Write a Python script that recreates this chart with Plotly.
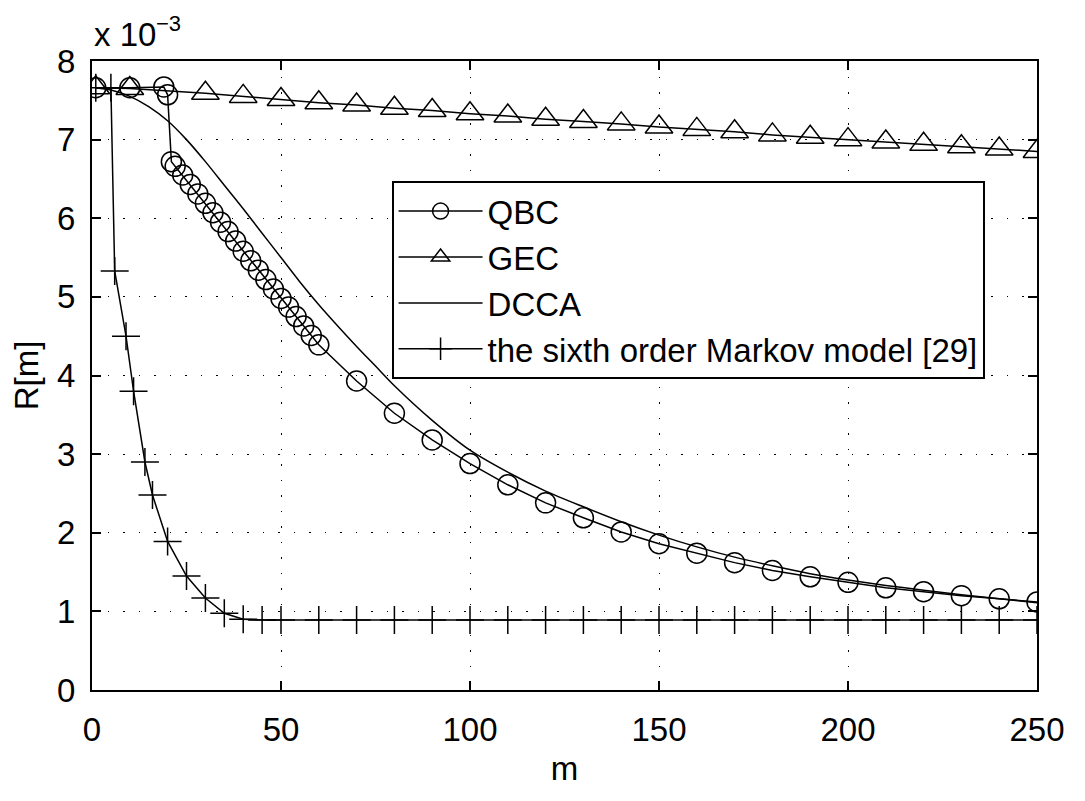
import plotly.graph_objects as go

# ---------------- data ----------------
qbc_m = [1, 10, 19, 20, 21, 22, 24, 26, 28, 30, 32, 34, 36, 38, 40, 42, 44, 46, 48, 50,
         52, 54, 56, 58, 60, 70, 80, 90, 100, 110, 120, 130, 140, 150, 160, 170, 180,
         190, 200, 210, 220, 230, 240, 250]
qbc_r = [7.66, 7.66, 7.67, 7.57, 6.72, 6.66, 6.55, 6.43, 6.31, 6.19, 6.07, 5.95, 5.83,
         5.71, 5.58, 5.46, 5.34, 5.22, 5.10, 4.98, 4.87, 4.75, 4.63, 4.51, 4.39, 3.93,
         3.52, 3.18, 2.88, 2.61, 2.38, 2.19, 2.01, 1.86, 1.74, 1.62, 1.52, 1.44, 1.37,
         1.30, 1.25, 1.20, 1.16, 1.12]

gec_m = [1, 10, 30, 40, 50, 60, 70, 80, 90, 100, 110, 120, 130, 140, 150, 160, 170,
         180, 190, 200, 210, 220, 230, 240, 250]
gec_r = [7.66, 7.65, 7.59, 7.55, 7.51, 7.47, 7.44, 7.40, 7.37, 7.33, 7.30, 7.26, 7.23,
         7.20, 7.16, 7.13, 7.10, 7.06, 7.03, 7.00, 6.97, 6.94, 6.91, 6.88, 6.85]

dcca_m = [1, 5, 10, 15, 20, 25, 30, 35, 40, 45, 50, 55, 60, 65, 70, 75, 80, 90, 100,
          110, 120, 130, 140, 150, 160, 170, 180, 190, 200, 210, 220, 230, 240, 250]
dcca_r = [7.66, 7.63, 7.55, 7.42, 7.24, 7.00, 6.72, 6.42, 6.12, 5.81, 5.50, 5.19, 4.90,
          4.63, 4.37, 4.12, 3.87, 3.43, 3.05, 2.77, 2.53, 2.33, 2.14, 1.97, 1.82, 1.69,
          1.58, 1.48, 1.40, 1.33, 1.27, 1.21, 1.16, 1.11]

mk_m = [1, 5, 6, 9, 11, 14, 16, 20, 25, 30, 35, 40, 45, 50, 60, 70, 80, 90, 100, 110,
        120, 130, 140, 150, 160, 170, 180, 190, 200, 210, 220, 230, 240, 250]
mk_r = [7.66, 7.66, 5.33, 4.50, 3.80, 2.90, 2.48, 1.89, 1.45, 1.17, 0.975, 0.90, 0.89,
        0.89, 0.89, 0.89, 0.89, 0.89, 0.89, 0.89, 0.89, 0.89, 0.89, 0.89, 0.89, 0.89,
        0.89, 0.89, 0.89, 0.89, 0.89, 0.89, 0.89, 0.89]

series_names = ["QBC", "GEC", "DCCA", "the sixth order Markov model [29]"]
x_ticks = [0, 50, 100, 150, 200, 250]
y_ticks = [0, 1, 2, 3, 4, 5, 6, 7, 8]

FONT = "Liberation Sans, Arial, Helvetica, sans-serif"
FS = 33

fig = go.Figure()
fig.add_trace(go.Scatter(x=qbc_m, y=qbc_r, name=series_names[0], mode="lines+markers",
                         line=dict(color="black", width=1.5),
                         marker=dict(symbol="circle-open", size=20, color="black",
                                     line=dict(width=1.5, color="black"))))
fig.add_trace(go.Scatter(x=gec_m, y=gec_r, name=series_names[1], mode="lines+markers",
                         line=dict(color="black", width=1.5),
                         marker=dict(symbol="triangle-up-open", size=24, color="black",
                                     line=dict(width=1.5, color="black"))))
fig.add_trace(go.Scatter(x=dcca_m, y=dcca_r, name=series_names[2], mode="lines",
                         line=dict(color="black", width=1.5, shape="spline", smoothing=0.8)))
fig.add_trace(go.Scatter(x=mk_m, y=mk_r, name=series_names[3], mode="lines+markers",
                         line=dict(color="black", width=1.5),
                         marker=dict(symbol="cross-thin-open", size=20, color="black",
                                     line=dict(width=1.5, color="black"))))

axis_common = dict(
    showline=True, linecolor="black", linewidth=2, mirror="ticks",
    ticks="inside", ticklen=9, tickwidth=1.5, tickcolor="black",
    showgrid=True, gridcolor="black", gridwidth=1, griddash="1.5px,14px",
    zeroline=False, tickfont=dict(family=FONT, size=FS, color="black"),
)

fig.update_xaxes(range=[0, 250], tickvals=x_ticks, ticktext=[str(v) for v in x_ticks],
                 title=dict(text="m", font=dict(family=FONT, size=FS, color="black"), standoff=10),
                 ticklabelstandoff=9, **axis_common)
fig.update_yaxes(range=[0, 8], tickvals=y_ticks, ticktext=[str(v) for v in y_ticks],
                 title=dict(text="R[m]", font=dict(family=FONT, size=FS, color="black"), standoff=12),
                 ticklabelstandoff=8, **axis_common)

# page body has an 8px default margin; size the figure so the plot area lands
# at x 92..1048, y 61..709 of the 1085x801 window
PLOT_H = 648
fig.update_layout(
    width=1069, height=785,
    margin=dict(l=84, r=29, t=53, b=84, pad=0),
    paper_bgcolor="white", plot_bgcolor="white",
    font=dict(family=FONT, size=FS, color="black"),
    showlegend=True,
    legend=dict(x=0.317, y=0.809, xanchor="left", yanchor="top",
                bgcolor="white", bordercolor="black", borderwidth=2,
                font=dict(family=FONT, size=FS, color="black"),
                tracegroupgap=0, itemwidth=84),
    annotations=[
        dict(text="x 10", xref="paper", yref="paper", x=0.0, y=(709 - 34) / PLOT_H,
             xanchor="left", yanchor="middle", showarrow=False,
             font=dict(family=FONT, size=FS, color="black")),
        dict(text="\u22123", xref="paper", yref="paper", x=(156 - 92) / 956,
             y=(709 - 8) / PLOT_H, xanchor="left", yanchor="top", showarrow=False,
             borderpad=0, font=dict(family=FONT, size=22, color="black")),
    ],
)

fig.write_html("out.html")
